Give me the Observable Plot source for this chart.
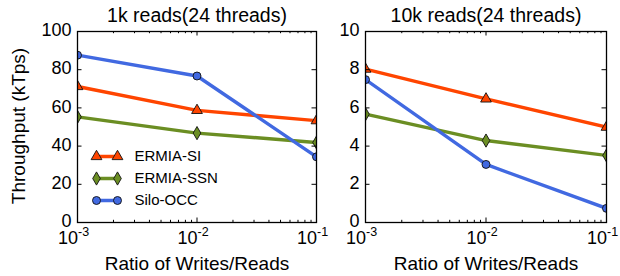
<!DOCTYPE html>
<html>
<head>
<meta charset="utf-8">
<script src="https://cdn.jsdelivr.net/npm/d3@7"></script>
<script src="https://cdn.jsdelivr.net/npm/@observablehq/plot@0.6"></script>
<style>
  html, body { margin: 0; padding: 0; background: #fff; }
  #wrap { position: relative; width: 620px; height: 276px; overflow: hidden; background: #fff; }
  #wrap svg { position: absolute; top: 0; }
</style>
</head>
<body>
<div id="wrap"></div>
<script>
// ---- data ----
const ratios = [0.001, 0.01, 0.1];
const series = ["ERMIA-SI", "ERMIA-SSN", "Silo-OCC"];
const colors = ["#ff4500", "#6b8e23", "#4169e1"];
const symbols = ["triangle", "diamond", "circle"];

const si1k = [71.2, 58.7, 53.3];
const ssn1k = [55.3, 46.8, 41.9];
const silo1k = [87.6, 76.7, 34.4];

const si10k = [8.03, 6.47, 4.99];
const ssn10k = [5.67, 4.29, 3.51];
const silo10k = [7.48, 3.04, 0.74];

const yTicks1k = [0, 20, 40, 60, 80, 100];
const yTicks10k = [0, 2, 4, 6, 8, 10];
const xTicks = [0.001, 0.01, 0.1];
const xExps = ["-3", "-2", "-1"];
const titles = ["1k reads(24 threads)", "10k reads(24 threads)"];
const xLabel = "Ratio of Writes/Reads";
const yLabel = "Throughput (kTps)";

const minorX = [];
for (const d of [0.001, 0.01]) for (let k = 2; k <= 9; k++) minorX.push(d * k);

function rows(vals) {
  const out = [];
  vals.forEach((arr, s) => arr.forEach((v, i) => out.push({series: series[s], x: ratios[i], y: v})));
  return out;
}

const FONT = "'Liberation Sans', Arial, Helvetica, sans-serif";

function panel({data, yDomain, yTicks, title, width, ml, mr, showYLabel, legend}) {
  const mt = 31, mb = 54, H = 276;
  const ph = H - mt - mb, pw = width - ml - mr;
  const major = 4.5, minor = 2.2;
  const marks = [
    Plot.line(data, {x: "x", y: "y", z: "series", stroke: "series", strokeWidth: 3.4, clip: true}),
    Plot.dot(data, {x: "x", y: "y", fill: "series", symbol: "series", r: 4, stroke: "#111", strokeWidth: 0.9, clip: true}),
    // inner ticks, x
    Plot.tickX(xTicks, {x: d => d, insetTop: ph - major, stroke: "#000"}),
    Plot.tickX(xTicks, {x: d => d, insetBottom: ph - major, stroke: "#000"}),
    Plot.tickX(minorX, {x: d => d, insetTop: ph - minor, stroke: "#000"}),
    Plot.tickX(minorX, {x: d => d, insetBottom: ph - minor, stroke: "#000"}),
    // inner ticks, y
    Plot.tickY(yTicks, {y: d => d, insetRight: pw - major, stroke: "#000"}),
    Plot.tickY(yTicks, {y: d => d, insetLeft: pw - major, stroke: "#000"}),
    Plot.frame({stroke: "#000", strokeWidth: 1.3}),
    // tick labels
    Plot.text(yTicks, {y: d => d, text: d => String(d), frameAnchor: "left", textAnchor: "end", lineAnchor: "middle", dx: -6, dy: -1, fontSize: 18}),
    Plot.text(xTicks, {x: d => d, text: () => "10", frameAnchor: "bottom", textAnchor: "end", lineAnchor: "middle", dx: 0.5, dy: 15.5, fontSize: 18}),
    Plot.text(xTicks, {x: d => d, text: (d, i) => xExps[i], frameAnchor: "bottom", textAnchor: "start", lineAnchor: "middle", dx: 0.5, dy: 9.5, fontSize: 12.5}),
    // title & x label
    Plot.text([title], {frameAnchor: "top", textAnchor: "middle", lineAnchor: "middle", dy: -15.5, fontSize: 19.5}),
    Plot.text([xLabel], {frameAnchor: "bottom", textAnchor: "middle", lineAnchor: "middle", dy: 41, fontSize: 19})
  ];
  if (showYLabel) marks.push(Plot.text([yLabel], {frameAnchor: "left", textAnchor: "middle", lineAnchor: "middle", rotate: -90, dx: -59, dy: -1, fontSize: 19}));
  if (legend) {
    const lineShape = {draw(ctx, l) { ctx.moveTo(0, 0); ctx.lineTo(0, -l); }};
    series.forEach((s, i) => {
      const dy = 125 + i * 22;
      marks.push(Plot.vector([s], {frameAnchor: "top-left", dx: 19, dy, length: 21, rotate: 90, anchor: "start", shape: lineShape, stroke: colors[i], strokeWidth: 3.4}));
      marks.push(Plot.dot([s], {frameAnchor: "top-left", dx: 19, dy, fill: colors[i], symbol: symbols[i], r: 4, stroke: "#111", strokeWidth: 0.9}));
      marks.push(Plot.dot([s], {frameAnchor: "top-left", dx: 40, dy, fill: colors[i], symbol: symbols[i], r: 4, stroke: "#111", strokeWidth: 0.9}));
      marks.push(Plot.text([s], {frameAnchor: "top-left", dx: 57, dy, text: d => d, textAnchor: "start", lineAnchor: "middle", fontSize: 15}));
    });
  }
  return Plot.plot({
    width, height: H,
    marginTop: mt, marginBottom: mb, marginLeft: ml, marginRight: mr,
    style: {fontFamily: FONT, background: "transparent", color: "#000", overflow: "visible"},
    x: {type: "log", domain: [0.001, 0.1], axis: null},
    y: {domain: yDomain, axis: null},
    color: {domain: series, range: colors},
    symbol: {domain: series, range: symbols},
    marks
  });
}

const wrap = document.getElementById("wrap");
const left = panel({
  data: rows([si1k, ssn1k, silo1k]), yDomain: [0, 100], yTicks: yTicks1k,
  title: titles[0], width: 320, ml: 77, mr: 4, showYLabel: true, legend: true
});
left.style.left = "0px";
const right = panel({
  data: rows([si10k, ssn10k, silo10k]), yDomain: [0, 10], yTicks: yTicks10k,
  title: titles[1], width: 310, ml: 55, mr: 14, showYLabel: false, legend: false
});
right.style.left = "310px";
wrap.appendChild(left);
wrap.appendChild(right);
</script>
</body>
</html>
